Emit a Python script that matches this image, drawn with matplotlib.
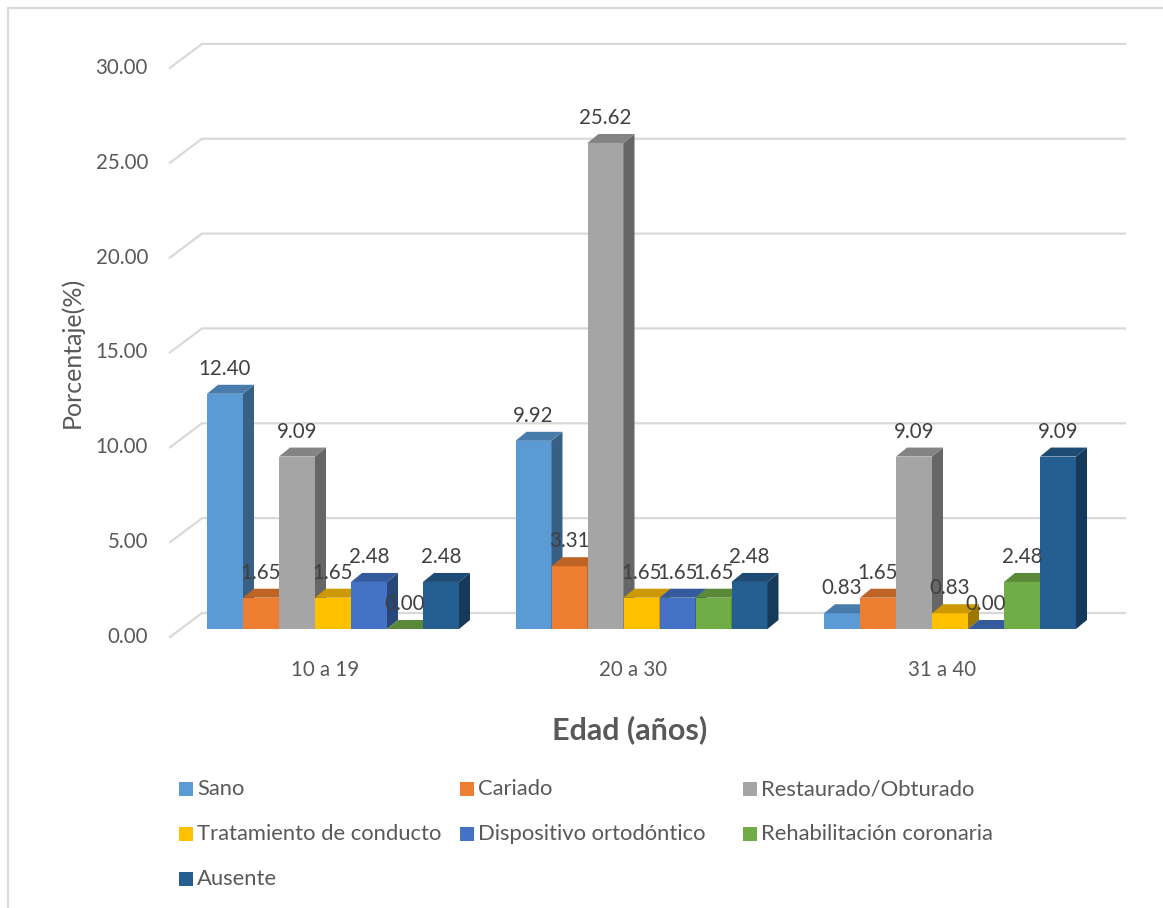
import matplotlib
matplotlib.use("Agg")
import matplotlib.pyplot as plt
from matplotlib.patches import Polygon, Rectangle
from matplotlib.transforms import IdentityTransform
from matplotlib.lines import Line2D
import matplotlib.colors as mcolors
import numpy as np

# ---------------- data ----------------
categories = ["10 a 19", "20 a 30", "31 a 40"]
series_names = ["Sano", "Cariado", "Restaurado/Obturado", "Tratamiento de conducto",
                "Dispositivo ortodóntico", "Rehabilitación coronaria", "Ausente"]
sano = [12.40, 9.92, 0.83]
cariado = [1.65, 3.31, 1.65]
restaurado = [9.09, 25.62, 9.09]
tratamiento = [1.65, 1.65, 0.83]
dispositivo = [2.48, 1.65, 0.00]
rehabilitacion = [0.00, 1.65, 2.48]
ausente = [2.48, 2.48, 9.09]
yticks = [0, 5, 10, 15, 20, 25, 30]
ytick_labels = ["0.00", "5.00", "10.00", "15.00", "20.00", "25.00", "30.00"]
y_title = "Porcentaje(%)"
x_title = "Edad (años)"

series_values = [sano, cariado, restaurado, tratamiento, dispositivo, rehabilitacion, ausente]
colors = ["#5B9BD5", "#ED7D31", "#A5A5A5", "#FFC000", "#4472C4", "#70AD47", "#255E91"]

# ---------------- layout ----------------
W, H = 1163, 908
FONT = "Lato"
plt.rcParams["font.family"] = [FONT, "DejaVu Sans"]
fig = plt.figure(figsize=(W / 100, H / 100), dpi=100)

# plot area in image pixels
pl, pr, pt, pb = 170, 1125, 44, 637
ax = fig.add_axes([pl / W, (H - pb) / H, (pr - pl) / W, (pb - pt) / H])
ax.set_xlim((pl - 333) / 308.5, (pr - 333) / 308.5)
ax.set_ylim(-(pb - 629) / 18.97, (629 - pt) / 18.97)
ax.axis("off")

bar_w = 36 / 308.5
n_series = len(series_values)
DX, DY = 11, 9          # bar depth offset (pixels)
FRONT_DROP, BACK_DX, BACK_DY = 8, 32, 16

tick_color = "#595959"
label_color = "#404040"
grid_color = "#D9D9D9"
FS = 14.8
FS_LEG = 15.8

# chart border (left and top visible)
fig.add_artist(Line2D([8 / W, 8 / W], [0, 1 - 8 / H], color=grid_color, lw=1.5))
fig.add_artist(Line2D([8 / W, 1], [1 - 8 / H, 1 - 8 / H], color=grid_color, lw=1.5))

# gridlines (back wall) with diagonal floor connectors + tick labels
x_left = ax.get_xlim()[0]
x_right_disp = ax.transData.transform((ax.get_xlim()[1], 0))[0]
for t, lab in zip(yticks, ytick_labels):
    px, py = ax.transData.transform((x_left, t))
    fx, fy = px, py - FRONT_DROP
    bx, by = px + BACK_DX, py + BACK_DY
    ax.add_line(Line2D([fx, bx, x_right_disp], [fy, by, by], transform=IdentityTransform(),
                       color=grid_color, lw=1.6, zorder=1, clip_on=False))
    ax.text(fx - 22, fy, lab, transform=IdentityTransform(), ha="right", va="center",
            fontsize=FS, color=tick_color, clip_on=False)

def shade(c, f):
    r, g, b = mcolors.to_rgb(c)
    return (r * f, g * f, b * f)

x_base = np.arange(len(categories))
zbase = 2.0
for j, (vals, col) in enumerate(zip(series_values, colors)):
    xs = x_base - 3.5 * bar_w + j * bar_w
    bars = ax.bar(xs, vals, width=bar_w, align="edge", color=col, linewidth=0)
    for i, rect in enumerate(bars):
        k = i * n_series + j
        z = zbase + k * 0.01
        rect.set_zorder(z)
        x0, y0 = rect.get_x(), rect.get_y()
        x1, y1 = x0 + rect.get_width(), y0 + rect.get_height()
        (dx0, dy0) = ax.transData.transform((x0, y0))
        (dx1, dy1) = ax.transData.transform((x1, y1))
        side = [(dx1, dy0), (dx1 + DX, dy0 + DY), (dx1 + DX, dy1 + DY), (dx1, dy1)]
        top = [(dx0, dy1), (dx0 + DX, dy1 + DY), (dx1 + DX, dy1 + DY), (dx1, dy1)]
        ax.add_patch(Polygon(side, closed=True, transform=IdentityTransform(),
                             facecolor=shade(col, 0.62), edgecolor="none", zorder=z + 0.003, clip_on=False))
        ax.add_patch(Polygon(top, closed=True, transform=IdentityTransform(),
                             facecolor=shade(col, 0.8), edgecolor="none", zorder=z + 0.006, clip_on=False))
        ax.text((dx0 + dx1) / 2, dy1 + 25, f"{vals[i]:.2f}", transform=IdentityTransform(),
                ha="center", va="center", fontsize=FS, color=label_color, zorder=10, clip_on=False)

# category labels
for i, c in enumerate(categories):
    cx = ax.transData.transform((x_base[i], 0))[0] - 8
    fig.text(cx / W, (H - 670) / H, c, ha="center", va="center", fontsize=FS, color=tick_color)

# axis titles
fig.text(72 / W, (H - 352) / H, y_title, rotation=90, ha="center", va="center",
         fontsize=18, color=tick_color)
fig.text(630 / W, (H - 730) / H, x_title, ha="center", va="center",
         fontsize=22, fontweight="bold", color=tick_color)

# legend
col_x = [179, 460, 743]
row_y = [789, 834, 879]
for idx, (name, col) in enumerate(zip(series_names, colors)):
    r, c = divmod(idx, 3)
    sx, sy = col_x[c], row_y[r]
    fig.add_artist(Rectangle(((sx) / W, (H - sy - 7) / H), 14 / W, 14 / H,
                             facecolor=col, edgecolor="none", transform=fig.transFigure))
    fig.text((sx + 18) / W, (H - sy) / H, name, ha="left", va="center",
             fontsize=FS_LEG, color=tick_color)

fig.savefig("out.png", dpi=100)
